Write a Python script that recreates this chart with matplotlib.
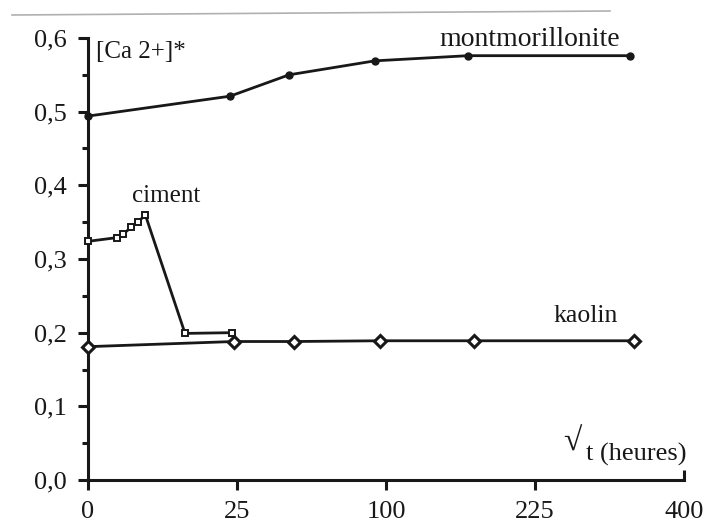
import numpy as np
import matplotlib
matplotlib.use("Agg")
import matplotlib.pyplot as plt
from matplotlib.lines import Line2D, TICKUP

plt.rcParams['font.family'] = ['Liberation Serif', 'DejaVu Serif']

# ---- data (t in hours, x axis is sqrt(t)) ----
t_mont = [0, 22.7, 45.5, 92.7, 162.6, 331]
v_mont = [0.494, 0.521, 0.550, 0.569, 0.576, 0.576]

t_cim = [0, 0.94, 1.4, 2.1, 2.8, 3.7, 10.6, 23.3]
v_cim = [0.324, 0.329, 0.334, 0.343, 0.350, 0.360, 0.199, 0.200]

t_kao = [0, 24, 48, 96, 168, 336]
v_kao = [0.181, 0.188, 0.188, 0.189, 0.189, 0.189]

x_ticks = [0, 25, 100, 225, 400]
x_ticklabels = ['0', '25', '100', '225', '400']
y_ticks = [0.0, 0.1, 0.2, 0.3, 0.4, 0.5, 0.6]
y_ticklabels = ['0,0', '0,1', '0,2', '0,3', '0,4', '0,5', '0,6']
y_minor = [0.05, 0.15, 0.25, 0.35, 0.45, 0.55]

col = '#181818'

fig = plt.figure(figsize=(7.03, 5.24), dpi=100)
ax = fig.add_axes([88/703, 1-480/524, (684-88)/703, (480-38)/524])
ax.set_xscale('function', functions=(lambda x: np.sqrt(np.clip(x, 0, None)), np.square))
ax.set_xlim(0, 400)
ax.set_ylim(0, 0.6)

ax.plot(t_mont, v_mont, color=col, lw=2.0, marker='o', ms=5,
        mfc=col, mec=col, clip_on=False, zorder=3)
ax.plot(t_cim, v_cim, color=col, lw=2.0, marker='s', ms=4.5,
        mfc='white', mec=col, mew=1.4, clip_on=False, zorder=3)
ax.plot(t_kao, v_kao, color=col, lw=2.0, marker='D', ms=6.5,
        mfc='white', mec=col, mew=2.2, clip_on=False, zorder=4)

for s in ['top', 'right']:
    ax.spines[s].set_visible(False)
for s in ['left', 'bottom']:
    ax.spines[s].set_linewidth(2.2)
    ax.spines[s].set_color(col)

ax.set_xticks(x_ticks)
ax.set_xticklabels(x_ticklabels)
ax.set_yticks(y_ticks)
ax.set_yticklabels(y_ticklabels)
ax.set_yticks(y_minor, minor=True)
ax.xaxis.set_minor_locator(matplotlib.ticker.NullLocator())

ax.tick_params(axis='both', which='major', direction='out', length=7,
               width=2.2, color=col, labelsize=19, labelcolor=col)
ax.tick_params(axis='x', which='major', pad=8)
ax.tick_params(axis='y', which='major', pad=8)
ax.tick_params(axis='y', which='minor', direction='out', length=4,
               width=2.2, color=col)

# last x tick points inward (upward) as in the reference
ax.xaxis.get_major_ticks()[-1].tick1line.set_marker(TICKUP)

def axpos(px, py):
    return ((px - 88) / 596, (480 - py) / 442)

ax.text(*axpos(96, 52), '[Ca 2+]*', transform=ax.transAxes, fontsize=18,
        ha='left', va='center', color=col)
ax.text(*axpos(530, 40), 'montmorillonite', transform=ax.transAxes, fontsize=20,
        ha='center', va='center', color=col)
ax.text(*axpos(166, 196), 'ciment', transform=ax.transAxes, fontsize=18,
        ha='center', va='center', color=col)
ax.text(*axpos(586, 316), 'kaolin', transform=ax.transAxes, fontsize=18.5,
        ha='center', va='center', color=col)
ax.text(*axpos(582, 442), '\u221a', transform=ax.transAxes, fontsize=24,
        ha='right', va='center', color=col)
ax.text(*axpos(686, 454), 't (heures)', transform=ax.transAxes, fontsize=19,
        ha='right', va='center', color=col)

# faint scan line at top
fig.add_artist(Line2D([12/703, 610/703], [1-15/524, 1-11/524], color='#b0b0b0',
                      lw=1.2, transform=fig.transFigure))

fig.savefig('out.png', dpi=100)
